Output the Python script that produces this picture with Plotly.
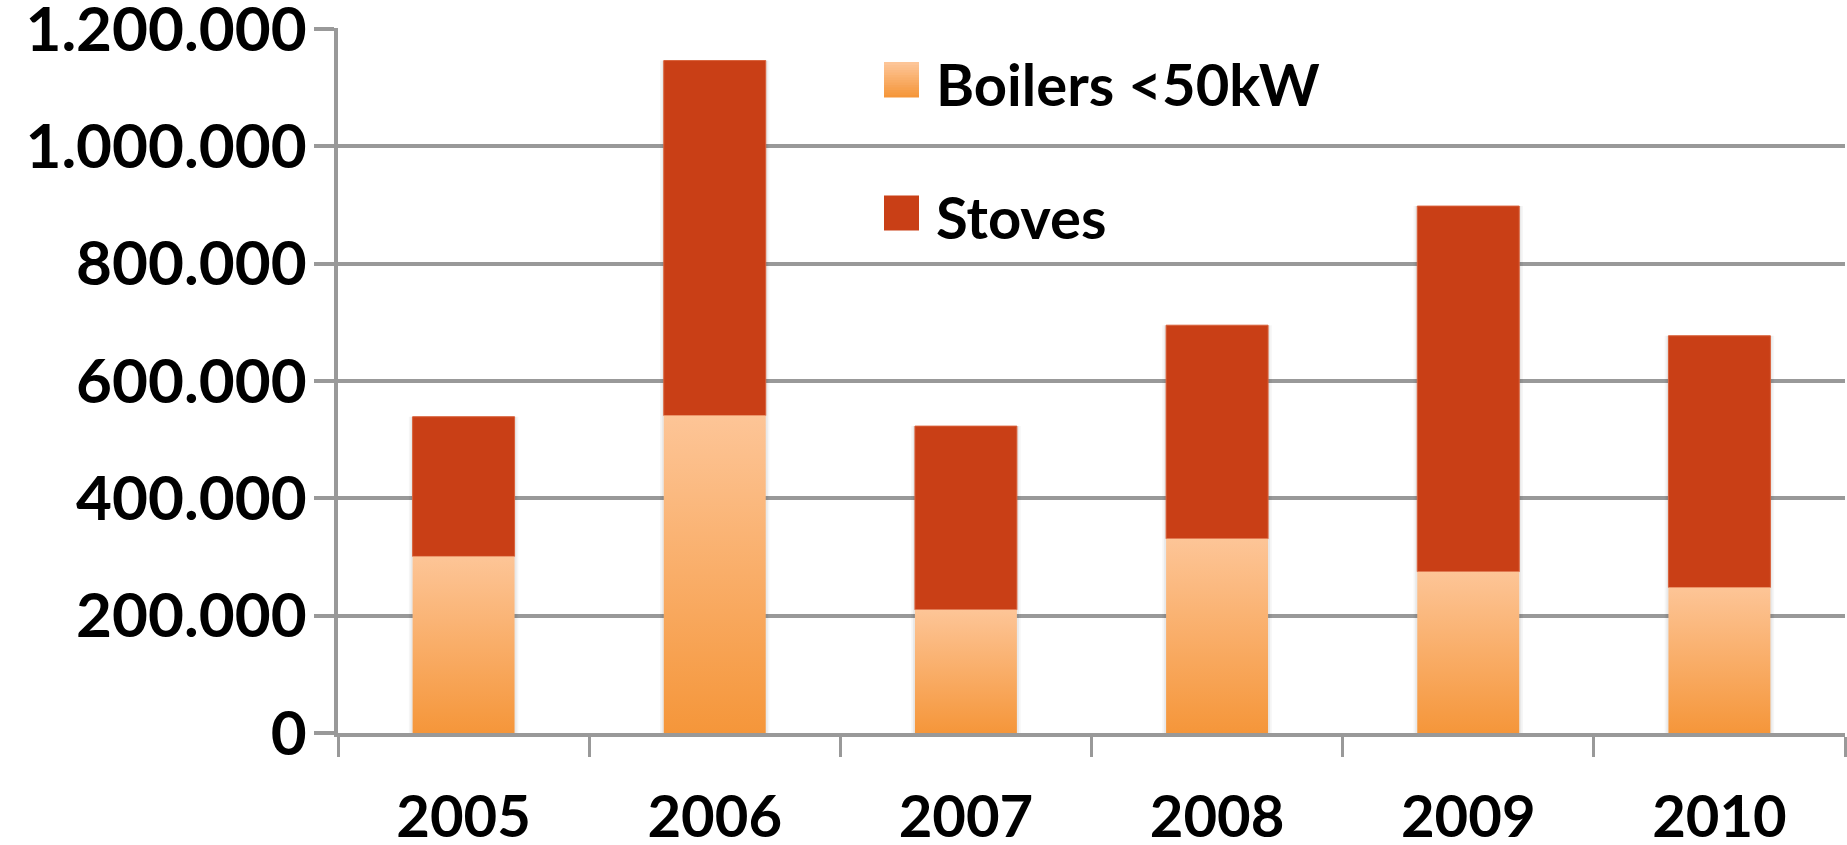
import plotly.graph_objects as go

# Sales of small wood-fired appliances, units per year
YEARS = ["2005", "2006", "2007", "2008", "2009", "2010"]
BOILERS = [301000, 541000, 210000, 331000, 275000, 248000]
STOVES = [238000, 605000, 313000, 364000, 623000, 429000]
Y_TICKS = [0, 200000, 400000, 600000, 800000, 1000000, 1200000]

STOVE_RED = "#C93F16"
BOILER_LIGHT = "#FDC597"
BOILER_DARK = "#F5963A"
GREY = "#999999"
FONT = "Lato"

W, H = 1847, 845
ML, MR, MT, MB = 338, 2, 28, 112
BAR_W = 0.406


def px_x(p):
    return (p - ML) / (W - ML - MR)


def px_y(p):
    return (H - MB - p) / (H - MT - MB)


fig = go.Figure()

totals = [b + s for b, s in zip(BOILERS, STOVES)]

# soft drop shadow behind each stacked bar
for grow, alpha in [(0.03, 0.035), (0.016, 0.05)]:
    fig.add_trace(
        go.Bar(
            x=list(range(len(YEARS))),
            y=totals,
            width=BAR_W + grow,
            marker=dict(color=f"rgba(0,0,0,{alpha})", line=dict(width=0)),
            hoverinfo="skip",
            showlegend=False,
        )
    )

# boilers: one filled polygon per bar so each bar gets its own vertical gradient
for i, v in enumerate(BOILERS):
    x0, x1 = i - BAR_W / 2, i + BAR_W / 2
    fig.add_trace(
        go.Scatter(
            x=[x0, x1, x1, x0, x0],
            y=[0, 0, v, v, 0],
            mode="lines",
            fill="toself",
            line=dict(width=0, color=BOILER_DARK),
            fillgradient=dict(
                type="vertical",
                colorscale=[[0, BOILER_DARK], [1, BOILER_LIGHT]],
            ),
            hovertemplate=f"{YEARS[i]}<br>Boilers <50kW: {v:,}<extra></extra>",
            showlegend=False,
        )
    )

# stoves stacked on top
fig.add_trace(
    go.Bar(
        x=list(range(len(YEARS))),
        y=STOVES,
        base=BOILERS,
        width=BAR_W,
        marker=dict(color=STOVE_RED, line=dict(width=1, color="#D9603A")),
        name="Stoves",
        showlegend=False,
    )
)

# ── hand-placed legend (big swatches as in the original)
sw = 35
legend_rows = [("Boilers <50kW", 80), ("Stoves", 213)]
for label, cy in legend_rows:
    if label == "Stoves":
        fig.add_shape(
            type="rect", xref="paper", yref="paper",
            x0=px_x(884), x1=px_x(884 + sw), y0=px_y(cy + sw / 2), y1=px_y(cy - sw / 2),
            fillcolor=STOVE_RED, line=dict(width=0),
        )
    else:
        n = 14
        for k in range(n):
            f = k / (n - 1)
            a = tuple(int(BOILER_DARK[j:j + 2], 16) for j in (1, 3, 5))
            b = tuple(int(BOILER_LIGHT[j:j + 2], 16) for j in (1, 3, 5))
            c = tuple(round(a[m] + f * (b[m] - a[m])) for m in range(3))
            top = cy + sw / 2 - k * sw / n
            fig.add_shape(
                type="rect", xref="paper", yref="paper",
                x0=px_x(884), x1=px_x(884 + sw), y0=px_y(top), y1=px_y(top - sw / n - 0.5),
                fillcolor=f"rgb{c}", line=dict(width=0),
            )
    fig.add_annotation(
        x=px_x(934), y=px_y(cy + 3), xref="paper", yref="paper",
        text=label, showarrow=False, xanchor="left", yanchor="middle",
        font=dict(family=FONT, size=58, weight=700, color="black"),
    )

fig.update_xaxes(
    range=[-0.5, len(YEARS) - 0.5],
    tickmode="array",
    tickvals=list(range(len(YEARS))),
    ticktext=YEARS,
    ticks="",
    ticklabelstandoff=30,
    ticklabeloverflow="allow",
    automargin=False,
    minor=dict(
        tickmode="array",
        tickvals=[i - 0.5 for i in range(len(YEARS) + 1)],
        ticks="outside",
        ticklen=20,
        tickwidth=3,
        tickcolor=GREY,
    ),
    showgrid=False,
    zeroline=False,
    showline=True,
    linecolor=GREY,
    linewidth=4,
    tickfont=dict(family=FONT, size=58, weight=700, color="black"),
    fixedrange=True,
)
fig.update_yaxes(
    range=[0, 1201500],
    tickmode="array",
    tickvals=Y_TICKS,
    tickformat=",d",
    ticks="outside",
    ticklen=20,
    tickwidth=4,
    tickcolor=GREY,
    ticklabelstandoff=-5,
    ticklabeloverflow="allow",
    automargin=False,
    showgrid=True,
    gridcolor=GREY,
    gridwidth=4,
    zeroline=False,
    showline=True,
    linecolor=GREY,
    linewidth=4,
    tickfont=dict(family=FONT, size=62, weight=700, color="black"),
    fixedrange=True,
)

fig.update_layout(
    width=W,
    height=H,
    margin=dict(l=ML, r=MR, t=MT, b=MB, autoexpand=False),
    separators=",.",
    plot_bgcolor="white",
    paper_bgcolor="white",
    showlegend=False,
    barmode="overlay",
)

# the page's default body margin would push the figure 8px off the window
fig.write_html(
    "out.html",
    config={"displayModeBar": False},
    post_script="document.body.style.margin='0';",
)
